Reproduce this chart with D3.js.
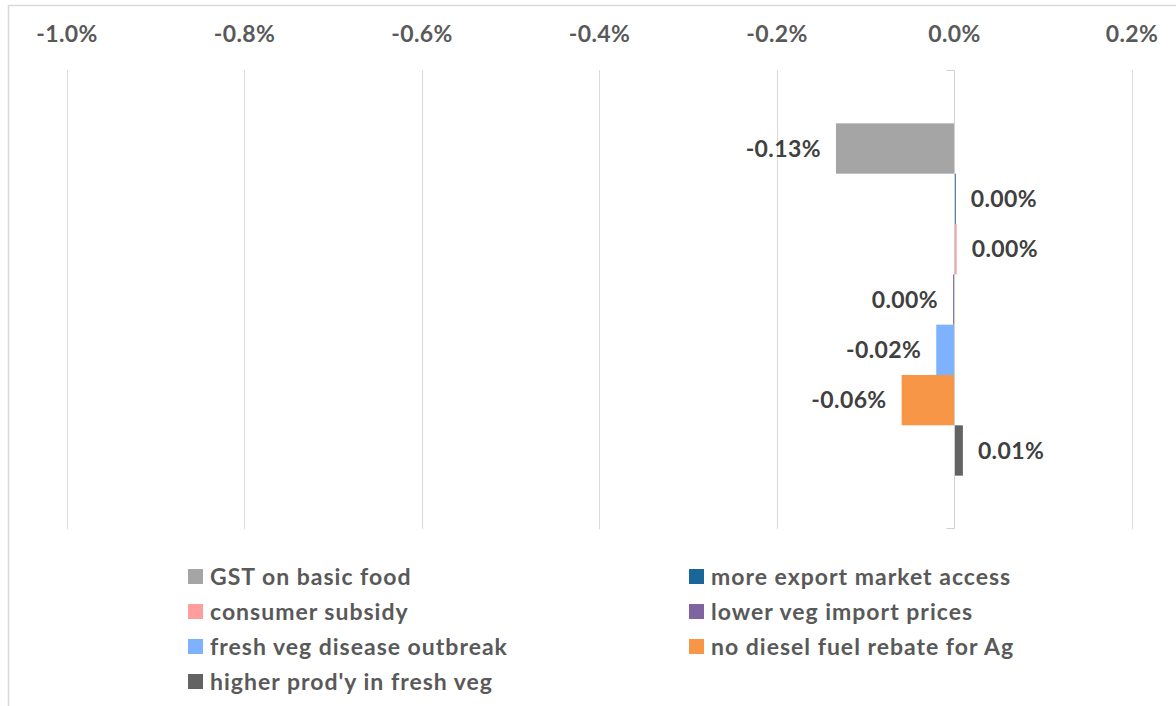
<!DOCTYPE html>
<html>
<head>
<meta charset="utf-8">
<script src="https://cdn.jsdelivr.net/npm/d3@7"></script>
<style>
  html, body { margin: 0; padding: 0; background: #ffffff; }
  svg { display: block; }
  text { font-family: Lato, "Open Sans", sans-serif; font-weight: 700; }
</style>
</head>
<body>
<svg id="chart" width="1176" height="706"></svg>
<script>
// Scenario names, in drawing order (top to bottom)
const scenarios = [
  "GST on basic food",
  "more export market access",
  "consumer subsidy",
  "lower veg import prices",
  "fresh veg disease outbreak",
  "no diesel fuel rebate for Ag",
  "higher prod'y in fresh veg"
];
// Change, in percent
const changes = [-0.133, 0.002, 0.003, -0.001, -0.020, -0.059, 0.010];
const colors = ["#A5A5A5", "#1B6699", "#FF9E9E", "#8064A2", "#7EB2FE", "#F79646", "#636363"];
const tickValues = [-1.0, -0.8, -0.6, -0.4, -0.2, 0.0, 0.2];

const svg = d3.select("#chart");

// Chart frame
svg.append("rect")
  .attr("x", 8.5).attr("y", 5.5)
  .attr("width", 1200).attr("height", 760)
  .attr("fill", "none").attr("stroke", "#D9D9D9").attr("stroke-width", 1.5);

const plot = { left: 66.5, right: 1131.5, top: 70, bottom: 529 };

const x = d3.scaleLinear().domain([-1.0, 0.2]).range([plot.left, plot.right]);
const y = d3.scaleBand().domain(scenarios)
  .range([plot.top, plot.bottom]).paddingInner(0).paddingOuter(1.06);

// Vertical gridlines
svg.append("g").selectAll("line").data(tickValues.filter(v => v !== 0)).join("line")
  .attr("x1", d => Math.round(x(d)) + 0.5).attr("x2", d => Math.round(x(d)) + 0.5)
  .attr("y1", plot.top).attr("y2", plot.bottom)
  .attr("stroke", "#D9D9D9").attr("stroke-width", 1);

// Top axis labels
const fmtTick = v => (v < 0 ? "-" : "") + Math.abs(v).toFixed(1) + "%";
const axis = d3.axisTop(x).tickValues(tickValues).tickSize(0).tickFormat(fmtTick);
const gAxis = svg.append("g").attr("transform", "translate(0,42)").call(axis);
gAxis.select(".domain").remove();
gAxis.selectAll("text")
  .attr("y", 0).attr("dy", 0)
  .attr("font-size", 23).attr("fill", "#595959")
  .attr("letter-spacing", 0.4)
  .style("font-family", "Lato, sans-serif").style("font-weight", 700);

// Bars
svg.append("g").selectAll("rect").data(scenarios).join("rect")
  .attr("x", (d, i) => Math.min(x(0), x(changes[i])))
  .attr("y", d => y(d))
  .attr("width", (d, i) => Math.max(1, Math.abs(x(changes[i]) - x(0))))
  .attr("height", y.bandwidth())
  .attr("fill", (d, i) => colors[i]);

// Category axis at zero with end ticks
const x0 = Math.round(x(0)) + 0.5;
svg.append("path")
  .attr("d", `M${x0 - 8},${plot.top + 0.5}H${x0}V${plot.bottom - 0.5}H${x0 - 8}`)
  .attr("fill", "none").attr("stroke", "#D0D0D0").attr("stroke-width", 1);

// Data labels
const fmtLabel = v => {
  const s = Math.abs(v).toFixed(2);
  return (v < 0 && +s !== 0 ? "-" : "") + s + "%";
};
svg.append("g").selectAll("text").data(scenarios).join("text")
  .attr("x", (d, i) => changes[i] < 0 ? x(changes[i]) - 15 : x(changes[i]) + 15)
  .attr("y", d => y(d) + y.bandwidth() / 2)
  .attr("dy", "0.36em")
  .attr("text-anchor", (d, i) => changes[i] < 0 ? "end" : "start")
  .attr("font-size", 23).attr("fill", "#404040")
  .attr("letter-spacing", 0.4)
  .text((d, i) => fmtLabel(changes[i]));

// Legend, two columns
const legend = svg.append("g").selectAll("g").data(scenarios).join("g")
  .attr("transform", (d, i) => `translate(${i % 2 === 0 ? 188 : 689},${576.5 + Math.floor(i / 2) * 35})`);
legend.append("rect")
  .attr("x", 0).attr("y", -7.5).attr("width", 15).attr("height", 15)
  .attr("fill", (d, i) => colors[i]);
legend.append("text")
  .attr("x", 22).attr("y", 0).attr("dy", "0.36em")
  .attr("font-size", 23).attr("fill", "#595959")
  .attr("letter-spacing", 1.0)
  .text(d => d);
</script>
</body>
</html>
